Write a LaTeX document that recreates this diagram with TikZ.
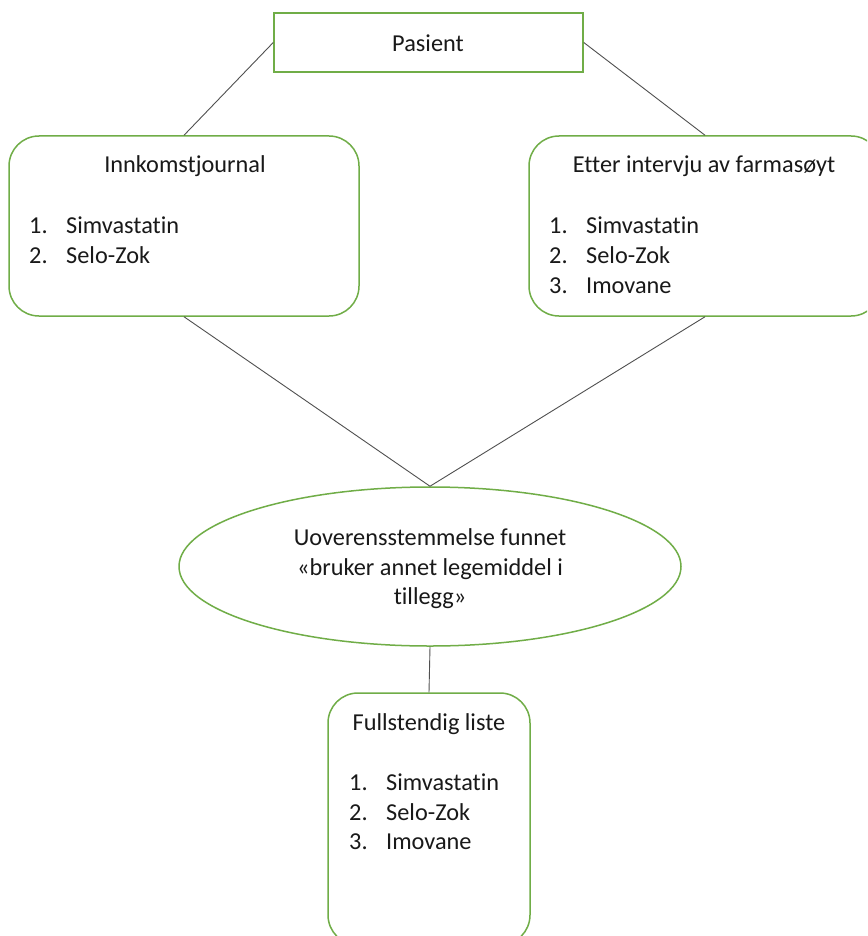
\documentclass[tikz,border=0pt]{standalone}
\usepackage{fontspec}
\setmainfont[Ligatures={NoCommon}]{Carlito}
\usetikzlibrary{shapes.geometric}
\definecolor{boxgreen}{RGB}{112,173,71}
\definecolor{linegray}{RGB}{80,80,80}
\begin{document}
\begin{tikzpicture}[x=1pt,y=-1pt,
  box/.style={draw=boxgreen,line width=1.5pt,rectangle,inner sep=0pt,fill=white},
  rbox/.style={box,rounded corners=30pt},
  link/.style={draw=linegray,line width=0.9pt},
  txt/.style={inner sep=0pt,font=\fontsize{24.3}{29}\selectfont,text=black!90},
  title/.style={txt,anchor=base},
  item/.style={txt,anchor=base west}]
\useasboundingbox (0,0) rectangle (867,936);
\clip (0,0) rectangle (867,936);
\fill[white] (0,0) rectangle (867,936);

\node[box,minimum width=309pt,minimum height=59pt] (pasient) at (428.5,42.5) {};
\node[rbox,minimum width=350pt,minimum height=180pt] (innk) at (184,226) {};
\node[rbox,minimum width=352pt,minimum height=180pt] (etter) at (705,226) {};
\node[box,ellipse,minimum width=502pt,minimum height=159pt] (uover) at (430,566.5) {};
\node[rbox,minimum width=202pt,minimum height=252pt] (full) at (429,819) {};

\draw[link] (pasient.west) -- (innk.north);
\draw[link] (pasient.east) -- (etter.north);
\draw[link] (innk.south) -- (uover.north);
\draw[link] (etter.south) -- (uover.north);
\draw[link] (uover.south) -- (full.north);

\node[title] (tpas) at (428,52) {Pasient};

\node[title] (tinnk) at (185,173) {Innkomstjournal};
\node[item] (i1n) at (29,233) {1.};
\node[item] (i1t) at (66,233) {Simvastatin};
\node[item] (i2n) at (29,263) {2.};
\node[item] (i2t) at (66,263) {Selo-Zok};

\node[title] (tetter) at (704,173) {Etter intervju av farmasøyt};
\node[item] (e1n) at (549,233) {1.};
\node[item] (e1t) at (586,233) {Simvastatin};
\node[item] (e2n) at (549,263) {2.};
\node[item] (e2t) at (586,263) {Selo-Zok};
\node[item] (e3n) at (549,293) {3.};
\node[item] (e3t) at (586,293) {Imovane};

\node[title] (u1) at (430,545) {Uoverensstemmelse funnet};
\node[title] (u2) at (430,575) {«bruker annet legemiddel i};
\node[title] (u3) at (430,604) {tillegg»};

\node[title] (tfull) at (429,730) {Fullstendig liste};
\node[item] (f1n) at (349,790) {1.};
\node[item] (f1t) at (386,790) {Simvastatin};
\node[item] (f2n) at (349,820) {2.};
\node[item] (f2t) at (386,820) {Selo-Zok};
\node[item] (f3n) at (349,849) {3.};
\node[item] (f3t) at (386,849) {Imovane};
\end{tikzpicture}
\end{document}
